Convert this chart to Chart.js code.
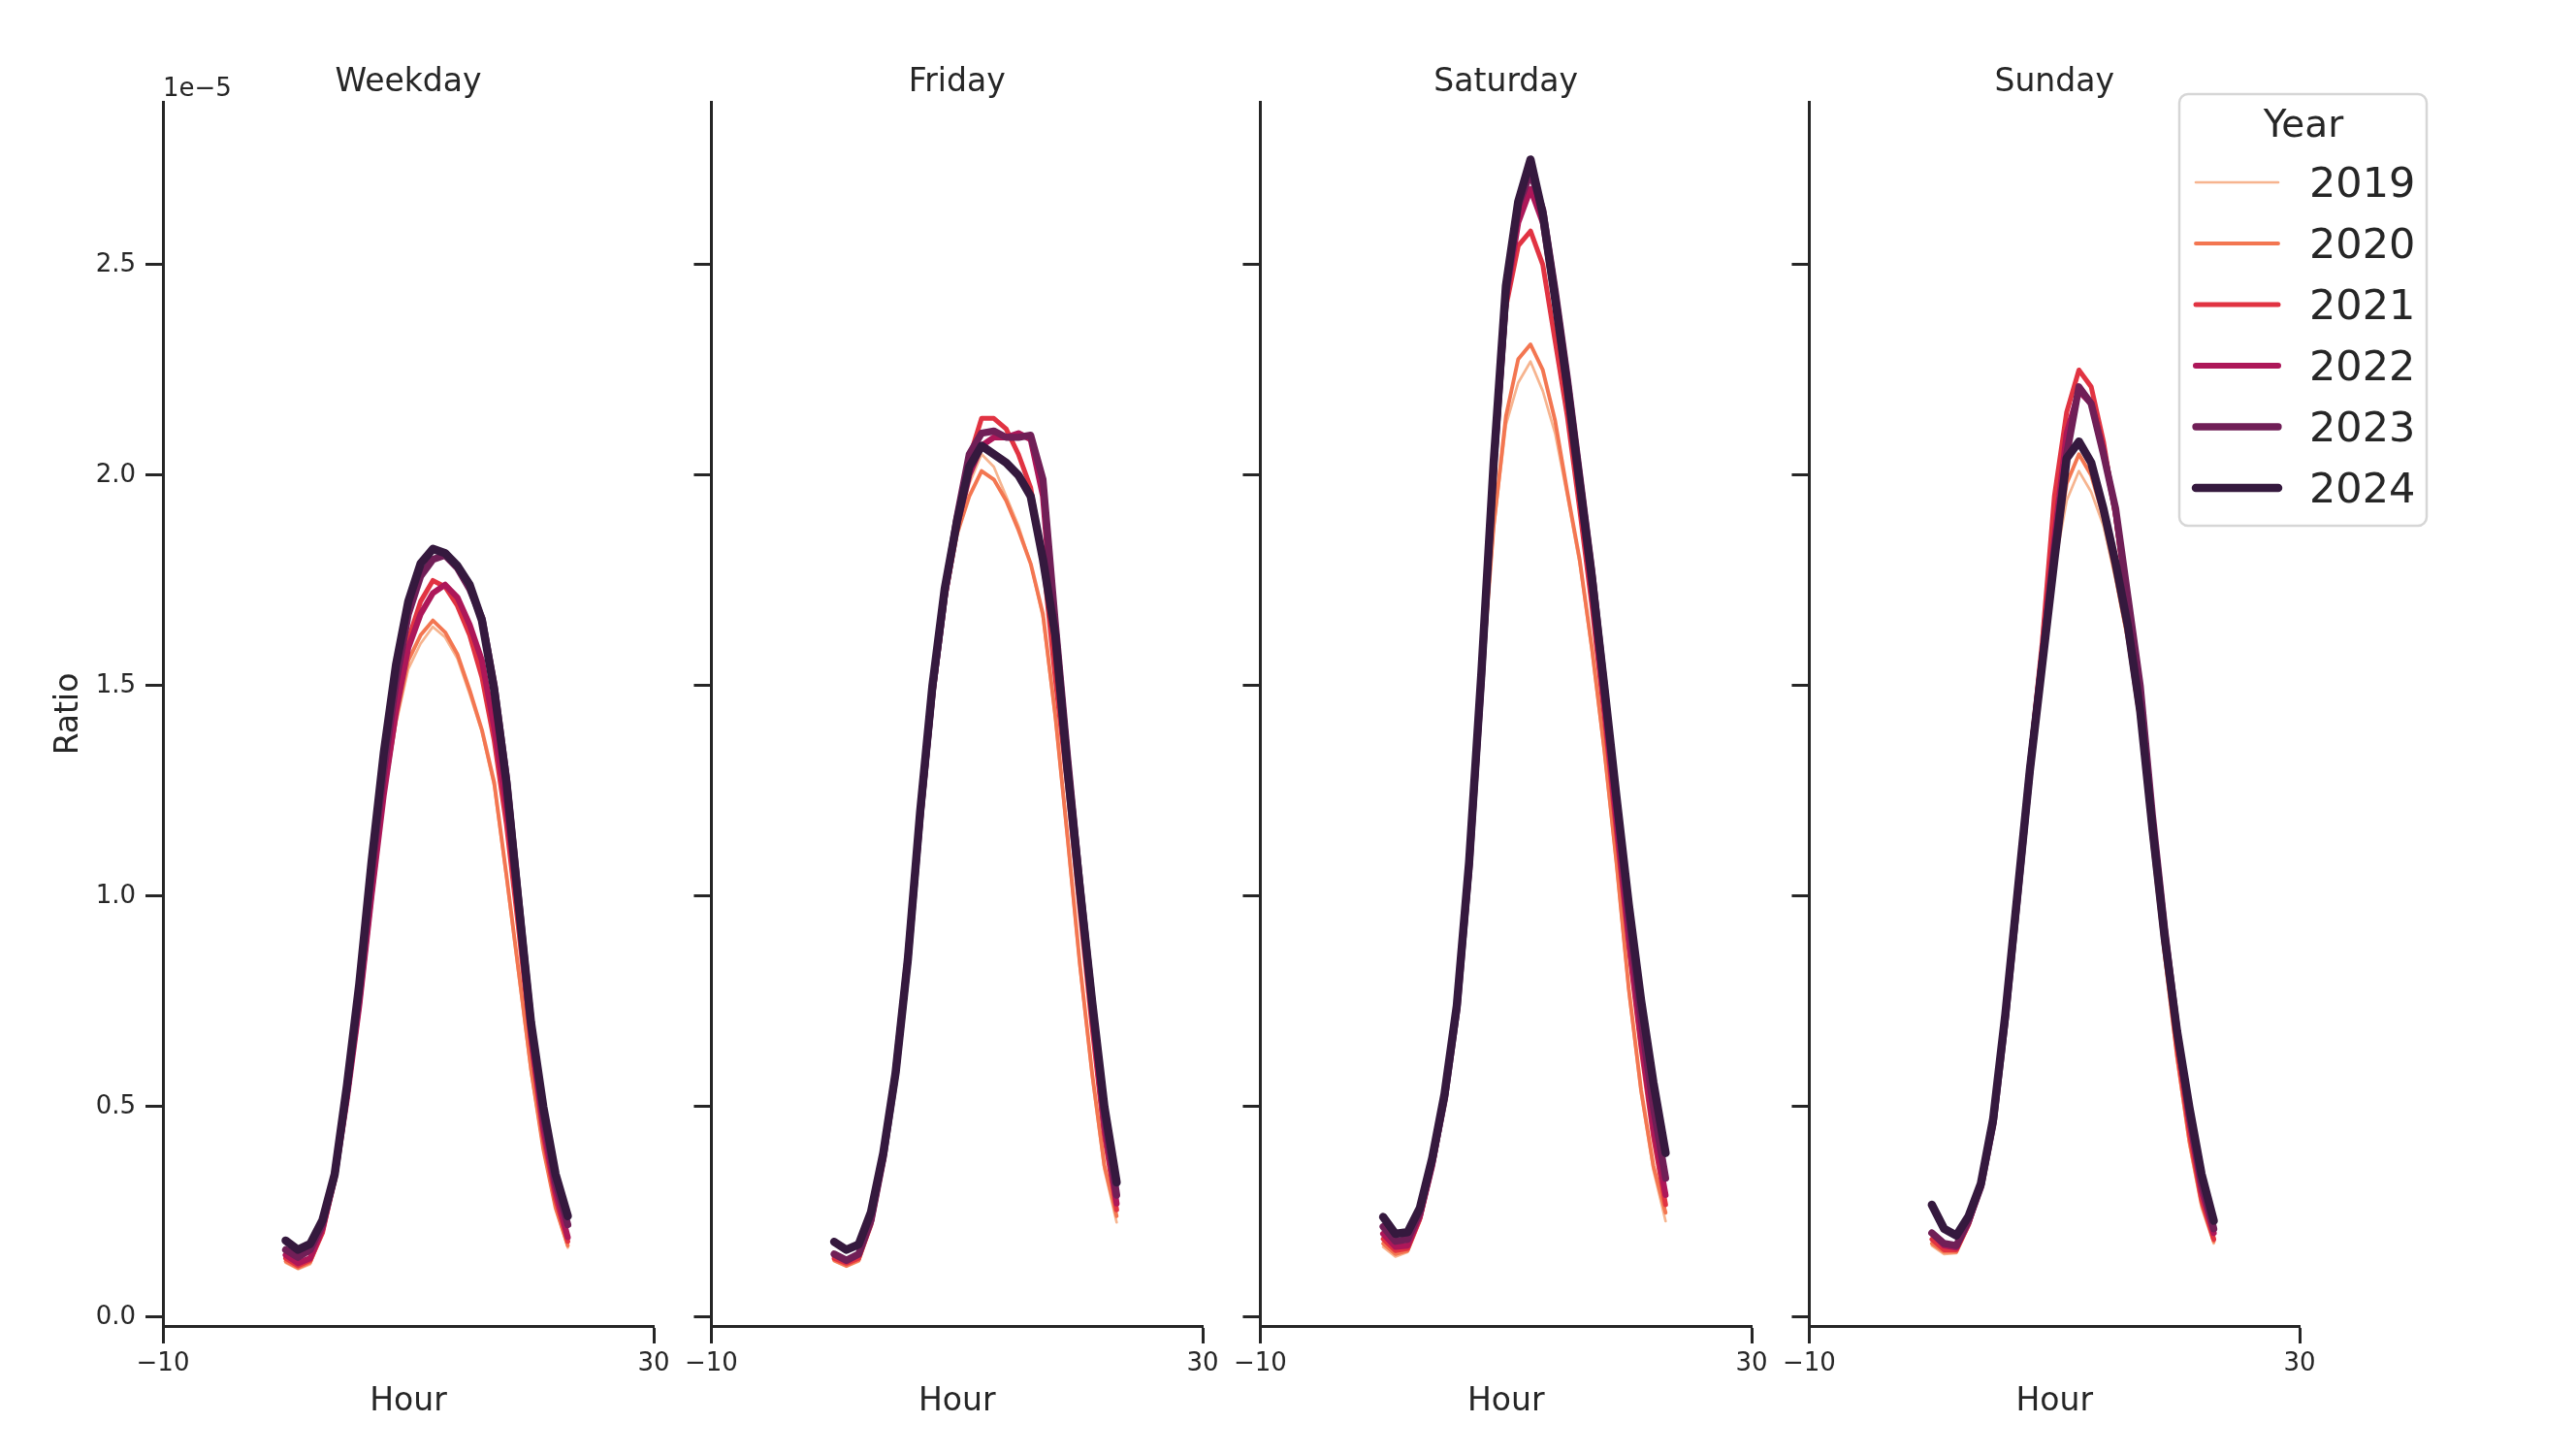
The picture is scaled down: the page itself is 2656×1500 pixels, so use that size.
<!DOCTYPE html>
<html>
<head>
<meta charset="utf-8">
<script src="https://cdn.jsdelivr.net/npm/chart.js@4.4.1/dist/chart.umd.min.js"></script>
<style>
  html, body { margin: 0; padding: 0; background: #fff; }
  #wrap { position: relative; width: 2656px; height: 1500px; }
  #wrap canvas { position: absolute; top: 0; }
</style>
</head>
<body>
<div id="wrap"></div>
<script>
// ===== Data (ratio, in units of 1e-5) =====
const hours = [0, 1, 2, 3, 4, 5, 6, 7, 8, 9, 10, 11, 12, 13, 14, 15, 16, 17, 18, 19, 20, 21, 22, 23];
const years = [2019, 2020, 2021, 2022, 2023, 2024];
const panelTitles = ["Weekday", "Friday", "Saturday", "Sunday"];
const xTicks = [-10, 30];
const yTicks = [0, 0.5, 1.0, 1.5, 2.0, 2.5];

// one row per year, 2019 .. 2024
const weekdayRatio = [
  [0.129, 0.114, 0.126, 0.20, 0.33, 0.52, 0.74, 0.99, 1.23, 1.41, 1.54, 1.60, 1.64, 1.615, 1.565, 1.48, 1.39, 1.26, 1.04, 0.81, 0.58, 0.40, 0.26, 0.165],
  [0.133, 0.117, 0.130, 0.20, 0.33, 0.52, 0.74, 1.00, 1.24, 1.42, 1.56, 1.62, 1.655, 1.627, 1.575, 1.49, 1.395, 1.27, 1.05, 0.82, 0.59, 0.40, 0.26, 0.17],
  [0.140, 0.122, 0.135, 0.20, 0.33, 0.52, 0.74, 1.00, 1.25, 1.46, 1.61, 1.70, 1.75, 1.735, 1.69, 1.62, 1.52, 1.37, 1.17, 0.92, 0.65, 0.43, 0.28, 0.18],
  [0.148, 0.128, 0.140, 0.21, 0.33, 0.52, 0.74, 1.00, 1.24, 1.44, 1.59, 1.67, 1.72, 1.74, 1.71, 1.645, 1.56, 1.40, 1.21, 0.96, 0.67, 0.45, 0.30, 0.19],
  [0.160, 0.142, 0.160, 0.22, 0.34, 0.54, 0.77, 1.05, 1.30, 1.51, 1.67, 1.76, 1.80, 1.81, 1.78, 1.73, 1.66, 1.50, 1.28, 0.99, 0.70, 0.48, 0.32, 0.22],
  [0.182, 0.160, 0.174, 0.23, 0.34, 0.55, 0.79, 1.08, 1.34, 1.55, 1.70, 1.79, 1.825, 1.815, 1.785, 1.74, 1.655, 1.49, 1.27, 0.98, 0.70, 0.50, 0.34, 0.24]
];
const fridayRatio = [
  [0.133, 0.120, 0.132, 0.22, 0.37, 0.58, 0.85, 1.19, 1.48, 1.70, 1.87, 1.98, 2.05, 2.02, 1.95, 1.88, 1.79, 1.66, 1.42, 1.13, 0.83, 0.57, 0.35, 0.225],
  [0.135, 0.122, 0.135, 0.22, 0.37, 0.58, 0.85, 1.19, 1.48, 1.70, 1.86, 1.95, 2.01, 1.99, 1.94, 1.87, 1.79, 1.67, 1.43, 1.14, 0.84, 0.58, 0.36, 0.24],
  [0.140, 0.128, 0.140, 0.22, 0.37, 0.58, 0.85, 1.19, 1.49, 1.72, 1.90, 2.04, 2.135, 2.135, 2.11, 2.05, 1.97, 1.80, 1.52, 1.26, 0.97, 0.69, 0.43, 0.255],
  [0.148, 0.133, 0.148, 0.23, 0.38, 0.58, 0.85, 1.18, 1.48, 1.71, 1.88, 2.00, 2.07, 2.09, 2.09, 2.10, 2.085, 1.95, 1.60, 1.31, 1.01, 0.72, 0.45, 0.27],
  [0.150, 0.135, 0.150, 0.23, 0.38, 0.58, 0.85, 1.19, 1.49, 1.72, 1.90, 2.05, 2.10, 2.105, 2.09, 2.09, 2.095, 1.99, 1.65, 1.33, 1.03, 0.75, 0.48, 0.29],
  [0.179, 0.160, 0.173, 0.25, 0.39, 0.58, 0.85, 1.20, 1.50, 1.73, 1.89, 2.02, 2.07, 2.05, 2.03, 2.00, 1.95, 1.80, 1.62, 1.30, 1.02, 0.75, 0.50, 0.32]
];
const saturdayRatio = [
  [0.167, 0.144, 0.155, 0.23, 0.355, 0.52, 0.73, 1.05, 1.50, 1.87, 2.12, 2.22, 2.27, 2.20, 2.10, 1.95, 1.79, 1.58, 1.34, 1.07, 0.77, 0.53, 0.35, 0.228],
  [0.175, 0.150, 0.158, 0.23, 0.355, 0.52, 0.73, 1.05, 1.50, 1.88, 2.14, 2.276, 2.311, 2.25, 2.13, 1.96, 1.80, 1.59, 1.35, 1.08, 0.78, 0.54, 0.36, 0.248],
  [0.186, 0.158, 0.163, 0.235, 0.36, 0.52, 0.73, 1.06, 1.51, 2.01, 2.40, 2.545, 2.58, 2.50, 2.32, 2.14, 1.92, 1.69, 1.43, 1.15, 0.88, 0.64, 0.43, 0.267],
  [0.198, 0.167, 0.170, 0.24, 0.36, 0.52, 0.73, 1.06, 1.51, 2.01, 2.42, 2.60, 2.68, 2.60, 2.41, 2.19, 1.96, 1.72, 1.46, 1.18, 0.90, 0.66, 0.45, 0.29],
  [0.215, 0.180, 0.185, 0.25, 0.37, 0.52, 0.73, 1.07, 1.52, 2.02, 2.43, 2.64, 2.72, 2.63, 2.44, 2.23, 2.00, 1.77, 1.50, 1.22, 0.95, 0.71, 0.50, 0.33],
  [0.238, 0.198, 0.202, 0.26, 0.378, 0.53, 0.74, 1.08, 1.53, 2.03, 2.45, 2.65, 2.75, 2.62, 2.42, 2.21, 1.98, 1.755, 1.50, 1.235, 0.98, 0.753, 0.558, 0.39]
];
const sundayRatio = [
  [0.170, 0.150, 0.152, 0.215, 0.305, 0.46, 0.70, 0.99, 1.29, 1.55, 1.78, 1.94, 2.01, 1.96, 1.88, 1.75, 1.60, 1.40, 1.11, 0.85, 0.61, 0.41, 0.26, 0.175],
  [0.175, 0.155, 0.155, 0.22, 0.31, 0.46, 0.71, 1.00, 1.30, 1.56, 1.80, 1.98, 2.05, 2.00, 1.90, 1.76, 1.61, 1.41, 1.12, 0.86, 0.62, 0.42, 0.27, 0.18],
  [0.185, 0.160, 0.160, 0.22, 0.31, 0.46, 0.71, 1.01, 1.32, 1.60, 1.95, 2.15, 2.25, 2.21, 2.08, 1.90, 1.68, 1.44, 1.15, 0.88, 0.64, 0.44, 0.28, 0.185],
  [0.200, 0.170, 0.165, 0.225, 0.31, 0.46, 0.71, 1.00, 1.31, 1.57, 1.85, 2.10, 2.20, 2.17, 2.06, 1.91, 1.70, 1.48, 1.18, 0.91, 0.67, 0.47, 0.30, 0.20],
  [0.200, 0.175, 0.170, 0.23, 0.31, 0.46, 0.71, 1.00, 1.30, 1.56, 1.82, 2.05, 2.21, 2.17, 2.05, 1.92, 1.71, 1.50, 1.19, 0.92, 0.68, 0.48, 0.32, 0.21],
  [0.267, 0.210, 0.194, 0.24, 0.317, 0.47, 0.72, 1.01, 1.30, 1.55, 1.80, 2.04, 2.08, 2.03, 1.92, 1.79, 1.64, 1.44, 1.16, 0.90, 0.68, 0.50, 0.34, 0.229]
];
const panelData = [weekdayRatio, fridayRatio, saturdayRatio, sundayRatio];

// ===== Styles =====
const yearColors = ["#f6b48f", "#f37651", "#e13342", "#ad1759", "#701f57", "#35193e"];
const yearWidths = [2.7, 3.9, 5.0, 6.1, 7.3, 8.5];
const ink = "#262626";
const FONT = "DejaVu Sans";

// ===== Layout (page pixels) =====
const plotLeft = [168, 733, 1299, 1865];
const plotRight = [674, 1240, 1806, 2371];
const canvasLeft = [0, 700, 1266, 1832];
const canvasRight = [700, 1266, 1832, 2656];
const plotTop = 105, plotBottom = 1367, pageH = 1500;
const xAxisH = 102;

Chart.defaults.font.family = FONT;
Chart.defaults.color = ink;

function minusSign(v) {
  return v < 0 ? "\u2212" + Math.abs(v) : String(v);
}

// panel titles, offset label and legend
const decorPlugin = {
  id: "decor",
  afterDraw(chart, args, opts) {
    const ctx = chart.ctx;
    const i = opts.panel;
    const off = canvasLeft[i];
    ctx.save();
    ctx.fillStyle = ink;
    ctx.font = `33px "${FONT}"`;
    ctx.textAlign = "center";
    ctx.textBaseline = "middle";
    ctx.fillText(panelTitles[i], (chart.chartArea.left + chart.chartArea.right) / 2, 85);

    if (i === 0) {
      ctx.font = `26px "${FONT}"`;
      ctx.textAlign = "left";
      ctx.fillText("1e\u22125", 168, 92);
    }

    if (i === 3) {
      // legend box
      const bx = 2247 - off, by = 97, bw = 255, bh = 445, r = 9;
      ctx.beginPath();
      ctx.moveTo(bx + r, by);
      ctx.arcTo(bx + bw, by, bx + bw, by + bh, r);
      ctx.arcTo(bx + bw, by + bh, bx, by + bh, r);
      ctx.arcTo(bx, by + bh, bx, by, r);
      ctx.arcTo(bx, by, bx + bw, by, r);
      ctx.closePath();
      ctx.fillStyle = "rgba(255,255,255,0.8)";
      ctx.fill();
      ctx.lineWidth = 2.5;
      ctx.strokeStyle = "#d6d6d6";
      ctx.stroke();

      ctx.fillStyle = ink;
      ctx.font = `39px "${FONT}"`;
      ctx.textAlign = "center";
      ctx.fillText("Year", 2375 - off, 131);

      ctx.font = `43px "${FONT}"`;
      ctx.textAlign = "left";
      ctx.lineCap = "round";
      years.forEach((yr, k) => {
        const y = 188 + k * 63;
        ctx.beginPath();
        ctx.moveTo(2264 - off, y);
        ctx.lineTo(2349 - off, y);
        ctx.strokeStyle = yearColors[k];
        ctx.lineWidth = yearWidths[k];
        ctx.stroke();
        ctx.fillStyle = ink;
        ctx.fillText(String(yr), 2381 - off, y + 4);
      });
    }
    ctx.restore();
  }
};

const wrap = document.getElementById("wrap");

panelData.forEach((rows, i) => {
  const canvas = document.createElement("canvas");
  const w = canvasRight[i] - canvasLeft[i];
  canvas.width = w;
  canvas.height = pageH;
  canvas.style.left = canvasLeft[i] + "px";
  canvas.style.width = w + "px";
  canvas.style.height = pageH + "px";
  wrap.appendChild(canvas);

  const yAxisW = i === 0 ? 120 : 40;

  const datasets = years.map((yr, k) => ({
    label: String(yr),
    data: hours.map((h, j) => ({ x: h, y: rows[k][j] })),
    borderColor: yearColors[k],
    backgroundColor: yearColors[k],
    borderWidth: yearWidths[k],
    borderCapStyle: "round",
    borderJoinStyle: "round",
    pointRadius: 0,
    fill: false,
    tension: 0,
    order: years.length - k
  }));

  new Chart(canvas.getContext("2d"), {
    type: "line",
    data: { datasets },
    plugins: [decorPlugin],
    options: {
      responsive: false,
      animation: false,
      devicePixelRatio: 1,
      layout: {
        padding: {
          left: plotLeft[i] - canvasLeft[i] - yAxisW,
          right: canvasRight[i] - plotRight[i],
          top: plotTop,
          bottom: pageH - plotBottom - xAxisH
        }
      },
      plugins: {
        legend: { display: false },
        tooltip: { enabled: false },
        decor: { panel: i }
      },
      scales: {
        x: {
          type: "linear",
          min: -10,
          max: 30,
          afterBuildTicks: s => { s.ticks = xTicks.map(v => ({ value: v })); },
          afterFit: s => { s.height = xAxisH; },
          ticks: {
            font: { size: 26 },
            color: ink,
            padding: 6,
            maxRotation: 0,
            autoSkip: false,
            callback: v => minusSign(v)
          },
          grid: { drawOnChartArea: false, drawTicks: true, tickLength: 18, tickWidth: 3, tickColor: ink },
          border: { display: true, color: ink, width: 3 },
          title: { display: true, text: "Hour", font: { size: 33 }, color: ink, padding: { top: 4, bottom: 4 } }
        },
        y: {
          type: "linear",
          min: -0.021,
          max: 2.887,
          afterBuildTicks: s => { s.ticks = yTicks.map(v => ({ value: v })); },
          afterFit: s => { s.width = yAxisW; },
          ticks: {
            font: { size: 26 },
            color: ink,
            padding: 10,
            callback: v => (i === 0 ? v.toFixed(1) : "")
          },
          grid: { drawOnChartArea: false, drawTicks: true, tickLength: 18, tickWidth: 3, tickColor: ink },
          border: { display: true, color: ink, width: 3 },
          title: { display: i === 0, text: "Ratio", font: { size: 33 }, color: ink, padding: { top: 4, bottom: 4 } }
        }
      }
    }
  });
});
</script>
</body>
</html>
